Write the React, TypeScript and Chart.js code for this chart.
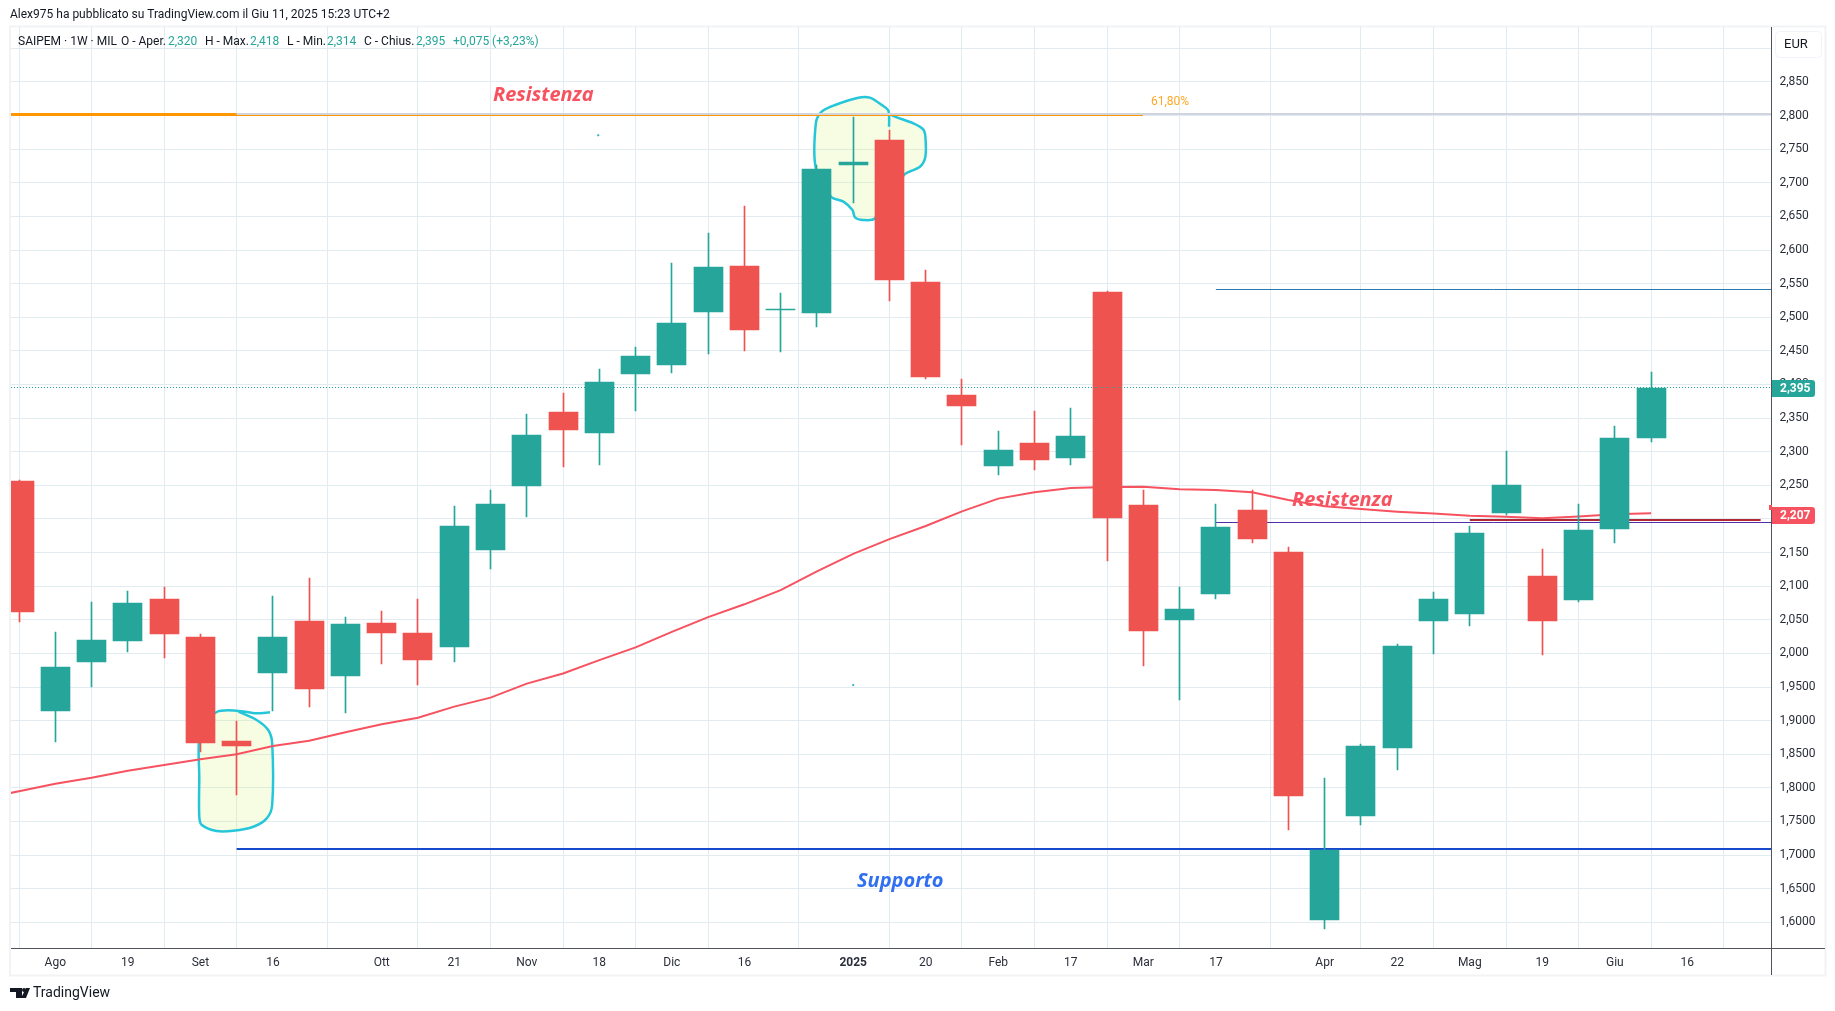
import React, { useEffect, useRef } from "react";
import { Chart, registerables } from "chart.js";

Chart.register(...registerables);

// Week index 0 = 5 Aug 2024, one unit per weekly candle
const weeks = [-1,0,1,2,3,4,5,6,7,8,9,10,11,12,13,14,15,16,17,18,19,20,21,22,23,24,25,26,27,28,29,30,31,32,33,34,35,36,37,38,39,40,41,42,43,44];
const opens = [2.2564,1.9148,1.9872,2.0185,2.0809,2.0244,1.8697,1.9709,2.0482,1.9664,2.0452,2.0303,2.0095,2.1538,2.249,2.359,2.3278,2.4155,2.4289,2.5078,2.5762,2.511,2.5063,2.726,2.764,2.5524,2.3844,2.2788,2.313,2.2907,2.5376,2.2207,2.0497,2.0884,2.2133,2.1508,1.6038,1.7584,1.8597,2.0484,2.0589,2.2091,2.115,2.0798,2.1855,2.32];
const closes = [2.0616,1.9798,2.0199,2.075,2.0289,1.8667,1.8623,2.0244,1.947,2.0437,2.0303,1.9902,2.1895,2.2222,2.3248,2.3322,2.4036,2.4423,2.4914,2.5747,2.481,2.5125,2.7205,2.731,2.5554,2.4111,2.368,2.3026,2.2877,2.3234,2.2014,2.0333,2.0661,2.188,2.1702,1.7881,1.7073,1.8619,2.011,2.0809,2.1789,2.2504,2.0484,2.1833,2.3203,2.395];
const highs = [2.258,2.0318,2.0765,2.0928,2.0988,2.0289,1.8995,2.0854,2.1122,2.0541,2.0631,2.0809,2.2193,2.243,2.356,2.3873,2.423,2.4557,2.5806,2.6253,2.6654,2.536,2.7264,2.798,2.779,2.5702,2.4082,2.3308,2.3606,2.365,2.5391,2.2431,2.0988,2.2222,2.2431,2.1579,1.8146,1.8652,2.0138,2.0914,2.1893,2.301,2.1552,2.2223,2.3384,2.418];
const lows = [2.0467,1.8682,1.95,2.002,1.9932,1.8538,1.789,1.9143,1.9203,1.9114,1.9842,1.953,1.9872,2.1255,2.2028,2.2772,2.2802,2.361,2.417,2.4453,2.4498,2.4483,2.4854,2.67,2.5241,2.4082,2.31,2.2654,2.2728,2.2802,2.1375,1.9813,1.9307,2.0809,2.1642,1.7375,1.5906,1.7452,1.8272,1.9995,2.0413,2.2064,1.9978,2.0771,2.1646,2.314];
const averageWeeks = [-2,-1,0,1,2,3,4,5,6,7,8,9,10,11,12,13,14,15,16,17,18,19,20,21,22,23,24,25,26,27,28,29,30,31,32,33,34,35,36,37,38,39,40,41,42,43,44];
const average = [1.784,1.795,1.806,1.815,1.8255,1.834,1.8424,1.8499,1.8623,1.8702,1.8826,1.8945,1.9044,1.9208,1.9342,1.955,1.97,1.99,2.009,2.032,2.054,2.073,2.094,2.122,2.148,2.17,2.1895,2.2113,2.2302,2.2396,2.246,2.2474,2.248,2.2441,2.2431,2.2396,2.2282,2.219,2.2146,2.2108,2.208,2.2047,2.2031,2.2009,2.2036,2.2069,2.2086];

const xTickValues = [0,2,4,6,9,11,13,15,17,19,22,24,26,28,30,32,35,37,39,41,43,45];
const xTickLabels = ["Ago","19","Set","16","Ott","21","Nov","18","Dic","16","2025","20","Feb","17","Mar","17","Apr","22","Mag","19","Giu","16"];
const yTickValues = [1.6,1.65,1.7,1.75,1.8,1.85,1.9,1.95,2.0,2.05,2.1,2.15,2.2,2.25,2.3,2.35,2.4,2.45,2.5,2.55,2.6,2.65,2.7,2.75,2.8,2.85,2.9];

const blobSupportX = [5.92,5.55,5.0,4.45,4.0,3.97,3.97,4.04,4.45,4.91,5.46,5.83,5.98,5.98,5.87,5.55,5.05];
const blobSupportY = [1.9124,1.9109,1.9148,1.9128,1.886,1.8117,1.7571,1.7447,1.7358,1.7362,1.7422,1.7547,1.7745,1.8662,1.886,1.9009,1.9133];
const blobTopX = [22.99,22.97,22.79,22.46,22.14,21.5,21.13,20.97,20.97,21.39,21.73,21.98,22.05,22.28,22.6,23.4,23.84,23.99,23.99,23.93,23.66,23.15,22.97];
const blobTopY = [2.7834,2.8072,2.8157,2.8266,2.8266,2.8157,2.8057,2.7885,2.7215,2.6793,2.6719,2.6595,2.6486,2.6446,2.6471,2.7116,2.7239,2.7388,2.7685,2.7795,2.7885,2.7983,2.8033];

const AXIS_MIN_X = -1.2215;
const AXIS_MAX_X = 47.32;
const AXIS_MIN_Y = 1.5618;
const AXIS_MAX_Y = 2.9317;

const GREEN = "#26a69a";
const RED = "#ef5350";
const GRID = "#e1ebf2";
const AXIS = "#50535e";
const FONT = "Roboto, sans-serif";

const hline = (label: string, x0: number, x1: number, y: number, color: string, width: number, order: number, dash?: number[]) => ({
  type: "line" as const,
  label,
  snap: width,
  data: [{ x: x0, y }, { x: x1, y }],
  borderColor: color,
  borderWidth: width,
  borderDash: dash || [],
  pointRadius: 0,
  order,
});

const legendParts: [string, string, number][] = [
  ["SAIPEM · 1W · MIL", "#131722", 18],
  ["O - Aper.", "#131722", 121],
  ["2,320", GREEN, 168],
  ["H - Max.", "#131722", 205],
  ["2,418", GREEN, 250],
  ["L - Min.", "#131722", 287],
  ["2,314", GREEN, 327],
  ["C - Chius.", "#131722", 364],
  ["2,395", GREEN, 416],
  ["+0,075 (+3,23%)", GREEN, 453],
];

const snapper = {
  id: "snapper",
  afterDatasetsUpdate(chart: any) {
    chart.data.datasets.forEach((ds: any, i: number) => {
      const meta = chart.getDatasetMeta(i);
      if (ds.type === "bar") {
        meta.data.forEach((el: any) => {
          el.x = Math.floor(el.x) + 0.5;
          el.y = Math.round(el.y);
          el.base = Math.round(el.base);
          if (el.base === el.y) el.base = el.y + 1;
        });
      } else if (ds.snap) {
        meta.data.forEach((el: any) => {
          el.y = ds.snap % 2 === 0 ? Math.round(el.y) : Math.floor(el.y) + 0.5;
        });
      }
    });
  },
};

const chrome = {
  id: "chrome",
  beforeDraw(chart: any) {
    const c = chart.ctx;
    c.save();
    c.fillStyle = "#ffffff";
    c.fillRect(0, 0, chart.width, chart.height);
    c.strokeStyle = "#f2f3f5";
    c.lineWidth = 2;
    c.strokeRect(10, 26.5, 1815.5, 949);
    c.restore();
  },
  afterDraw(chart: any) {
    const c = chart.ctx;
    const y = chart.scales.y;
    c.save();
    // axis extensions
    c.strokeStyle = AXIS;
    c.lineWidth = 1;
    c.beginPath();
    c.moveTo(1771.5, 27);
    c.lineTo(1771.5, 975);
    c.moveTo(11, 948.5);
    c.lineTo(1825, 948.5);
    c.stroke();

    c.textBaseline = "middle";
    c.textAlign = "left";
    c.fillStyle = "#131722";
    c.font = `12px ${FONT}`;
    c.fillText("Alex975 ha pubblicato su TradingView.com il Giu 11, 2025 15:23 UTC+2", 10, 15);
    legendParts.forEach(([t, col, x]) => {
      c.fillStyle = col;
      c.fillText(t, x, 42);
    });

    // currency button
    c.fillStyle = "#ffffff";
    c.strokeStyle = "#f0f3fa";
    c.lineWidth = 1;
    c.beginPath();
    c.roundRect(1775.5, 31.5, 46, 26, 4);
    c.fill();
    c.stroke();
    c.fillStyle = "#131722";
    c.font = `13px ${FONT}`;
    c.fillText("EUR", 1784, 44.5);

    // annotation texts
    c.font = `italic bold 20px "Open Sans", ${FONT}`;
    c.fillStyle = "#f7525f";
    c.fillText("Resistenza", 493, 95);
    c.fillText("Resistenza", 1292, 500);
    c.fillStyle = "#2f6ff0";
    c.fillText("Supporto", 857, 881);
    c.font = `12px ${FONT}`;
    c.fillStyle = "#ffa726";
    c.fillText("61,80%", 1151, 102);

    // price tags
    const tag = (value: number, bg: string, text: string) => {
      const py = Math.round(y.getPixelForValue(value));
      c.fillStyle = bg;
      c.beginPath();
      c.roundRect(1772, py - 8, 43, 17, [0, 3, 3, 0]);
      c.fill();
      c.fillStyle = "#ffffff";
      c.font = `bold 12px ${FONT}`;
      c.fillText(text, 1780, py + 0.5);
    };
    c.fillStyle = "#f7525f";
    c.fillRect(1769, 505, 3, 5);
    tag(2.2065, "#f7525f", "2,207");
    tag(2.395, GREEN, "2,395");

    // logo
    c.fillStyle = "#131722";
    c.fillRect(10, 988, 12, 4);
    c.fillRect(16, 988, 6, 10);
    c.beginPath();
    c.arc(24, 990, 2, 0, Math.PI * 2);
    c.fill();
    c.beginPath();
    c.moveTo(26, 988);
    c.lineTo(30, 988);
    c.lineTo(26, 998);
    c.lineTo(21, 998);
    c.closePath();
    c.fill();
    c.font = `14px ${FONT}`;
    c.fillText("TradingView", 33, 993);
    c.restore();
  },
};

export default function App() {
  const ref = useRef<HTMLCanvasElement>(null);
  useEffect(() => {
    document.body.style.margin = "0";
    const colors = weeks.map((_, i) => (closes[i] >= opens[i] ? GREEN : RED));
    const chart = new Chart(ref.current as HTMLCanvasElement, {
      type: "bar",
      plugins: [snapper, chrome],
      data: {
        datasets: [
          {
            type: "line",
            label: "blob1",
            data: blobSupportX.map((x, i) => ({ x, y: blobSupportY[i] })),
            borderColor: "#26c6da",
            borderWidth: 2.5,
            backgroundColor: "rgba(205,245,90,0.17)",
            fill: "shape",
            tension: 0.3,
            pointRadius: 0,
            order: 20,
          },
          {
            type: "line",
            label: "blob2",
            data: blobTopX.map((x, i) => ({ x, y: blobTopY[i] })),
            borderColor: "#26c6da",
            borderWidth: 2.5,
            backgroundColor: "rgba(205,245,90,0.17)",
            fill: "shape",
            tension: 0.3,
            pointRadius: 0,
            order: 20,
          },
          {
            type: "bar",
            label: "wick",
            data: weeks.map((x, i) => ({ x, y: [lows[i], highs[i]] })),
            backgroundColor: colors,
            barThickness: 1,
            grouped: false,
            order: 11,
          },
          {
            type: "bar",
            label: "body",
            data: weeks.map((x, i) => ({ x, y: [opens[i], closes[i]] })),
            backgroundColor: colors,
            barThickness: 29,
            grouped: false,
            order: 10,
          },
          {
            type: "line",
            label: "media",
            data: averageWeeks.map((x, i) => ({ x, y: average[i] })),
            borderColor: "#f7525f",
            borderWidth: 2,
            pointRadius: 0,
            tension: 0,
            order: 15,
          },
          hline("last", AXIS_MIN_X, AXIS_MAX_X, 2.3955, GREEN, 1, 6, [1, 2]),
          hline("grey", 5, AXIS_MAX_X, 2.8023, "#d1d4dc", 2, 16),
          hline("orange thin", AXIS_MIN_X, 29.99, 2.8004, "#ff9800", 1, 15),
          hline("orange", AXIS_MIN_X, 5, 2.8016, "#ff9800", 3, 14),
          hline("blue", 32, AXIS_MAX_X, 2.5415, "#2a7ab0", 1, 14),
          hline("purple", 32, AXIS_MAX_X, 2.195, "#512da8", 1, 14),
          hline("darkred", 39, 47.02, 2.1985, "#b22833", 2, 13),
          hline("support", 5, AXIS_MAX_X, 1.7095, "#1848cc", 2, 13),
          {
            type: "scatter",
            label: "dots",
            data: [{ x: 14.97, y: 2.7706 }, { x: 22, y: 1.9529 }],
            backgroundColor: "#26c6da",
            pointRadius: 1,
            order: 1,
          },
        ],
      } as any,
      options: {
        responsive: false,
        animation: false,
        devicePixelRatio: 1,
        layout: { padding: { left: 11, top: 27, right: 9.5, bottom: 36 } },
        plugins: { legend: { display: false }, title: { display: false }, tooltip: { enabled: false } },
        scales: {
          x: {
            type: "linear",
            min: AXIS_MIN_X,
            max: AXIS_MAX_X,
            offset: false,
            afterBuildTicks: (s: any) => {
              s.ticks = xTickValues.map((value) => ({ value }));
            },
            afterFit: (s: any) => {
              s.height = 27;
            },
            grid: { color: GRID, drawTicks: false, lineWidth: 1 },
            border: { color: AXIS },
            ticks: {
              padding: 8,
              autoSkip: false,
              maxRotation: 0,
              color: "#2a2e39",
              font: (ctx: any) => ({ family: FONT, size: 12, weight: ctx.tick && ctx.tick.value === 22 ? "bold" : "normal" }),
              callback: (v: any) => xTickLabels[xTickValues.indexOf(v)],
            },
          },
          y: {
            type: "linear",
            position: "right",
            min: AXIS_MIN_Y,
            max: AXIS_MAX_Y,
            afterBuildTicks: (s: any) => {
              s.ticks = yTickValues.map((value) => ({ value }));
            },
            afterFit: (s: any) => {
              s.width = 54;
            },
            grid: { color: GRID, drawTicks: false, lineWidth: 1 },
            border: { color: AXIS },
            ticks: {
              padding: 8,
              autoSkip: false,
              color: "#2a2e39",
              font: { family: FONT, size: 12 },
              callback: (v: any) => (v > 2.88 ? "" : (v >= 2 ? v.toFixed(3) : v.toFixed(4)).replace(".", ",")),
            },
          },
        },
      } as any,
    });
    return () => chart.destroy();
  }, []);
  return <canvas ref={ref} width={1835} height={1011} style={{ display: "block", width: 1835, height: 1011 }} />;
}
